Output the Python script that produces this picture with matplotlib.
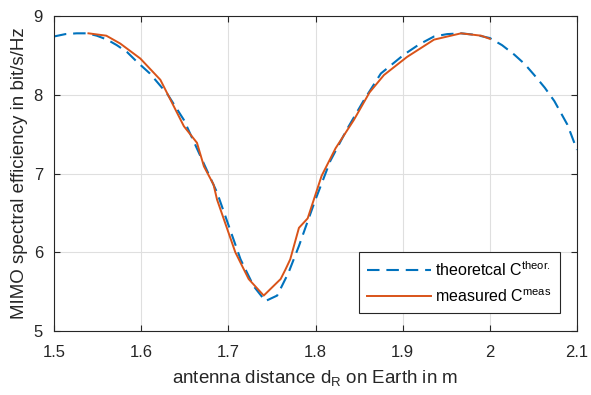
import numpy as np
import matplotlib.pyplot as plt

plt.rcParams['font.family'] = 'Liberation Sans'
plt.rcParams['mathtext.fontset'] = 'custom'
plt.rcParams['mathtext.rm'] = 'Liberation Sans'
plt.rcParams['mathtext.it'] = 'Liberation Sans'

# theoretical capacity curve
d_theor = [1.500, 1.513, 1.526, 1.538, 1.549, 1.561, 1.572, 1.584, 1.595, 1.610,
           1.630, 1.649, 1.668, 1.687, 1.700, 1.714, 1.729, 1.7425, 1.756, 1.769,
           1.781, 1.789, 1.800, 1.817, 1.836, 1.856, 1.875, 1.9015, 1.919, 1.936,
           1.951, 1.967, 1.984, 2.000, 2.014, 2.028, 2.040, 2.051, 2.063, 2.074,
           2.089, 2.100]
c_theor = [8.74, 8.77, 8.78, 8.78, 8.75, 8.70, 8.63, 8.54, 8.42, 8.27,
           8.01, 7.68, 7.22, 6.76, 6.35, 5.91, 5.57, 5.38, 5.45, 5.74,
           6.08, 6.33, 6.67, 7.16, 7.56, 7.94, 8.27, 8.51, 8.64, 8.74,
           8.77, 8.78, 8.76, 8.72, 8.63, 8.51, 8.39, 8.25, 8.09, 7.92,
           7.62, 7.30]

# measured capacity
d_meas = [1.5395, 1.560, 1.576, 1.599, 1.622, 1.649, 1.664, 1.672, 1.683, 1.687,
          1.708, 1.7233, 1.7406, 1.760, 1.7655, 1.771, 1.781, 1.791, 1.807, 1.823,
          1.844, 1.862, 1.8785, 1.905, 1.936, 1.967, 1.990, 2.000]
c_meas = [8.78, 8.75, 8.65, 8.46, 8.19, 7.60, 7.39, 7.09, 6.86, 6.67,
          6.00, 5.66, 5.45, 5.66, 5.78, 5.91, 6.31, 6.43, 6.97, 7.32,
          7.68, 8.03, 8.25, 8.48, 8.70, 8.78, 8.75, 8.71]

blue = '#0072BD'
orange = '#D95319'
dark = '#262626'

fig = plt.figure(figsize=(5.91, 3.95), dpi=100)
ax = fig.add_axes([0.0914, 0.162, 0.8849, 0.7975])

ax.plot(d_theor, c_theor, color=blue, lw=1.5, dashes=(6, 3.3),
        label=r'theoretcal C$^{\mathrm{theor.}}$')
ax.plot(d_meas, c_meas, color=orange, lw=1.4,
        label=r'measured C$^{\mathrm{meas}}$')

ax.set_xlim(1.5, 2.1)
ax.set_ylim(5, 9)
ax.set_xticks([1.5, 1.6, 1.7, 1.8, 1.9, 2.0, 2.1])
ax.set_xticklabels(['1.5', '1.6', '1.7', '1.8', '1.9', '2', '2.1'])
ax.set_yticks([5, 6, 7, 8, 9])

ax.grid(True, color='#dfdfdf', lw=0.8)
ax.set_axisbelow(True)
for s in ax.spines.values():
    s.set_color(dark)
    s.set_linewidth(0.8)
ax.tick_params(direction='in', top=True, right=True, length=4, width=0.8,
               colors=dark, labelsize=12)
ax.tick_params(axis='x', pad=10)
ax.tick_params(axis='y', pad=8)

ax.set_xlabel(r'antenna distance d$_{\mathrm{R}}$ on Earth in m', fontsize=13.5,
              color=dark, labelpad=6)
ax.set_ylabel('MIMO spectral efficiency in bit/s/Hz', fontsize=13.5, color=dark,
              labelpad=4)

leg = ax.legend(loc='lower right', bbox_to_anchor=(0.967, 0.057), borderaxespad=0,
                fancybox=False, framealpha=1, edgecolor=dark, handlelength=4.0,
                handletextpad=0.3, fontsize=11.5, labelspacing=0.6, borderpad=0.5)
leg.get_frame().set_linewidth(0.8)

plt.savefig('out.png', dpi=100)
